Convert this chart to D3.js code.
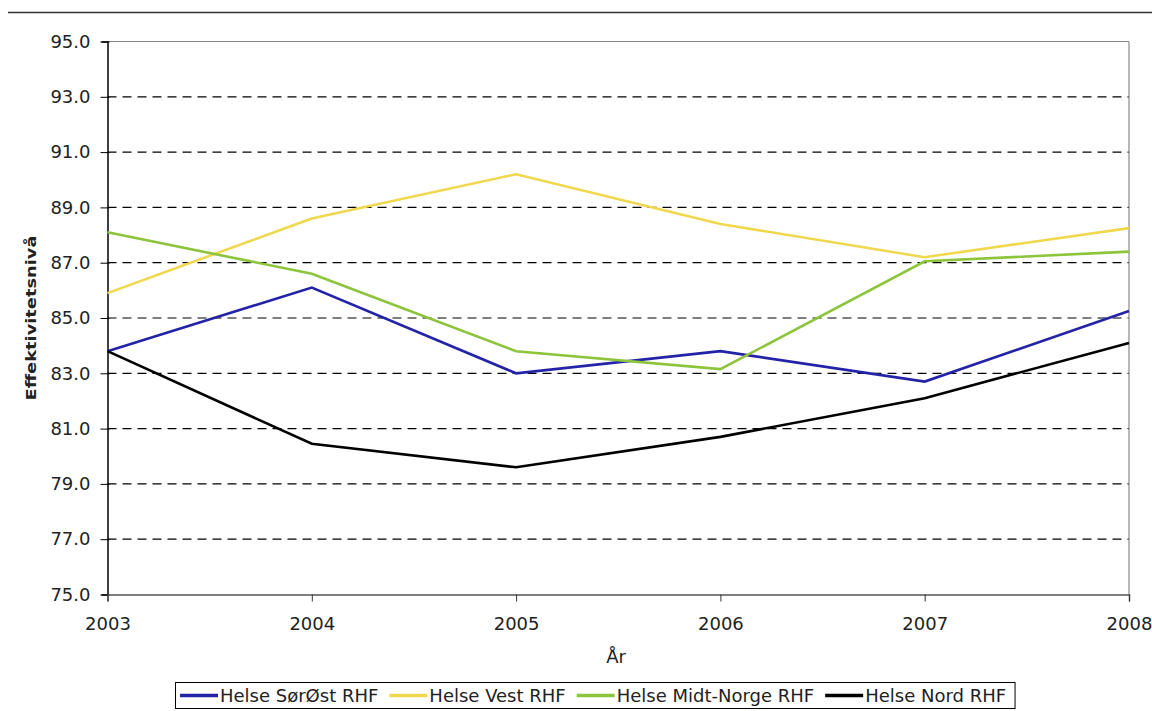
<!DOCTYPE html>
<html><head><meta charset="utf-8">
<script src="https://cdn.jsdelivr.net/npm/d3@7"></script>
<style>body{margin:0;background:#fff}svg{display:block}text{font-family:"DejaVu Sans",Verdana,sans-serif;fill:#222}</style>
</head><body>
<svg id="c" width="1152" height="711"></svg>
<script>
const years = [2003, 2004, 2005, 2006, 2007, 2008];
const yTicks = [75, 77, 79, 81, 83, 85, 87, 89, 91, 93, 95];
const seriesNames = ["Helse SørØst RHF", "Helse Vest RHF", "Helse Midt-Norge RHF", "Helse Nord RHF"];
const seriesColors = ["#2323a8", "#f0d84e", "#8cc43c", "#000000"];
const sorOst = [83.8, 86.1, 83.0, 83.8, 82.7, 85.25];
const vest = [85.9, 88.6, 90.2, 88.4, 87.2, 88.25];
const midtNorge = [88.1, 86.6, 83.8, 83.15, 87.05, 87.4];
const nord = [83.8, 80.45, 79.6, 80.7, 82.1, 84.1];
const seriesValues = [sorOst, vest, midtNorge, nord];

const svg = d3.select("#c");
const L = 107.5, R = 1129, T = 41.5, B = 594.5;
const x = d3.scaleLinear().domain([2003, 2008]).range([L, R]);
const y = d3.scaleLinear().domain([75, 95]).range([B, T]);

// top page line
svg.append("line").attr("x1", 8).attr("x2", 1152).attr("y1", 12.5).attr("y2", 12.5)
  .attr("stroke", "#333").attr("stroke-width", 1.5);

// gridlines
svg.append("g").selectAll("line").data(yTicks.filter(d => d > 75 && d < 95)).join("line")
  .attr("x1", L).attr("x2", R).attr("y1", d => y(d)).attr("y2", d => y(d))
  .attr("stroke", "#000").attr("stroke-width", 1.2).attr("stroke-dasharray", "9,6");

// plot border top and right
svg.append("line").attr("x1", L).attr("x2", R).attr("y1", T).attr("y2", T).attr("stroke", "#888").attr("stroke-width", 1.2);
svg.append("line").attr("x1", R).attr("x2", R).attr("y1", T).attr("y2", B).attr("stroke", "#888").attr("stroke-width", 1.2);

// y axis
const yAxis = svg.append("g").attr("transform", `translate(${L},0)`)
  .call(d3.axisLeft(y).tickValues(yTicks).tickFormat(d3.format(".1f")).tickSize(6).tickPadding(11));
yAxis.select(".domain").attr("stroke", "#000").attr("stroke-width", 1.5);
yAxis.selectAll(".tick line").attr("stroke", "#000").attr("x2", -7).attr("x1", 2);
yAxis.selectAll("text").style("font-size", "18px").attr("fill", "#222");

// x axis
const xAxis = svg.append("g").attr("transform", `translate(0,${B})`)
  .call(d3.axisBottom(x).tickValues(years).tickFormat(d3.format("d")).tickSize(7).tickPadding(16));
xAxis.select(".domain").attr("stroke", "#555").attr("stroke-width", 1.5);
xAxis.selectAll(".tick line").attr("stroke", "#333");
xAxis.selectAll("text").style("font-size", "18px").attr("fill", "#222");

// lines
const line = d3.line().x((d, i) => x(years[i])).y(d => y(d));
svg.append("g").selectAll("path").data(seriesValues).join("path")
  .attr("d", d => line(d)).attr("fill", "none")
  .attr("stroke", (d, i) => seriesColors[i]).attr("stroke-width", 2.6)
  .attr("stroke-linejoin", "miter");

// axis titles
svg.append("text").attr("x", 616).attr("y", 663).attr("text-anchor", "middle").style("font-size", "18px").text("År");
svg.append("text").attr("transform", "translate(36,318) rotate(-90)").attr("text-anchor", "middle")
  .style("font-size", "14px").style("font-weight", "bold")
  .attr("textLength", 165).attr("lengthAdjust", "spacingAndGlyphs").text("Effektivitetsnivå");

// legend
const lg = svg.append("g");
const box = lg.append("rect").attr("x", 175.5).attr("y", 682.5).attr("height", 26)
  .attr("fill", "#fff").attr("stroke", "#000").attr("stroke-width", 1);
let cx = 180;
seriesNames.forEach((n, i) => {
  lg.append("line").attr("x1", cx).attr("x2", cx + 38).attr("y1", 695.5).attr("y2", 695.5)
    .attr("stroke", seriesColors[i]).attr("stroke-width", 3.5);
  const t = lg.append("text").attr("x", cx + 40).attr("y", 702).style("font-size", "18px").text(n);
  cx += 40 + t.node().getComputedTextLength() + 11;
});
box.attr("width", cx - 175.5 - 2);
</script>
</body></html>
